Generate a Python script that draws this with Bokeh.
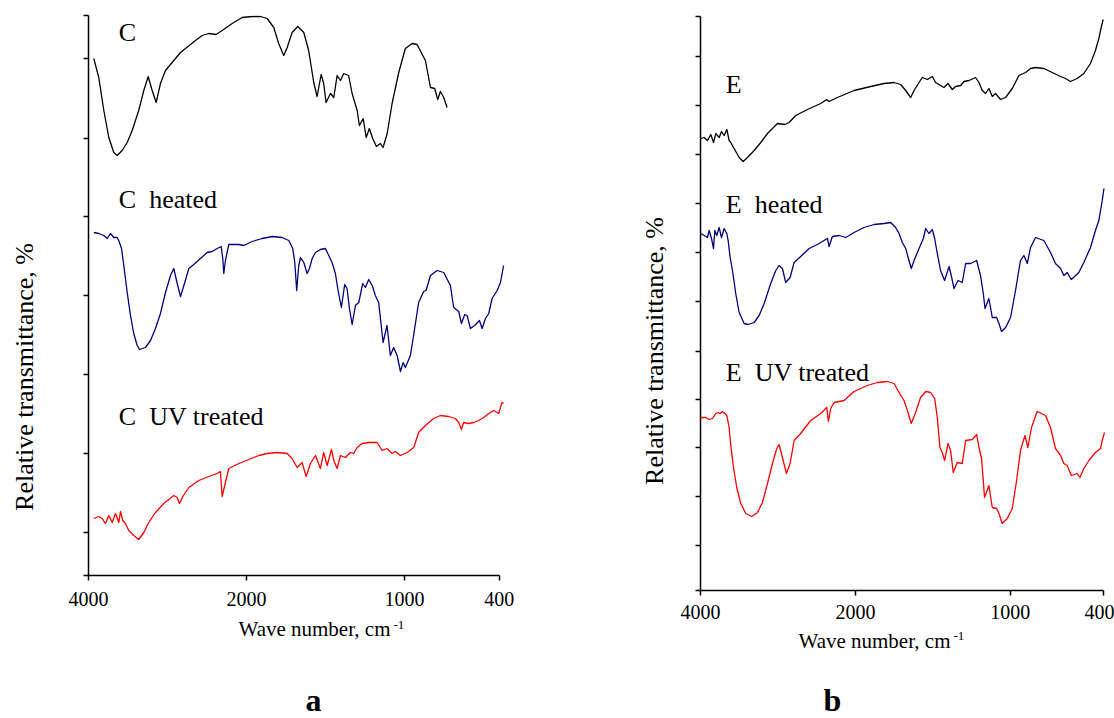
import numpy as np
from bokeh.plotting import figure
from bokeh.models import FixedTicker, Label, Range1d
from bokeh.layouts import row, column
from bokeh.embed import file_html
from bokeh.resources import INLINE

# ---------------- data (wave number, cm-1 ; relative transmittance, arb.) ----------------
c_wave = [3933,3870,3806,3743,3680,3637,3574,3510,3447,3364,3300,3244,3194,3143,3089,3025,2941,2835,2772,2646,
          2561,2477,2384,2308,2181,2054,1964,1911,1869,1827,1796,1764,1742,1711,1675,1637,1606,1574,1553,1527,
          1511,1496,1468,1447,1426,1405,1384,1353,1331,1299,1285,1261,1242,1222,1201,1177,1152,1135,1109,1078,
          1036,994,951,920,867,835,808,789,772,751,730]
c_trans = [517,498,465,438,423,420,425,433,445,465,485,499,485,473,492,505,513,523,527,535,
           540,542,541,545,552,558,559,559,557,548,532,520,528,543,549,543,525,493,479,501,
           492,473,482,478,500,495,502,500,482,465,450,457,438,447,437,429,432,428,442,472,
           503,527,532,531,515,488,487,476,484,478,468]

ch_wave = [3933,3870,3806,3763,3722,3680,3637,3617,3582,3553,3510,3468,3427,3384,3354,3278,3215,3152,3089,3025,
           2962,2920,2877,2835,2781,2730,2667,2582,2497,2434,2371,2320,2300,2287,2266,2224,2097,2034,1964,1901,
           1837,1774,1732,1707,1694,1682,1669,1658,1637,1616,1601,1584,1563,1532,1500,1479,1458,1437,1420,1399,
           1378,1363,1348,1331,1310,1289,1264,1247,1226,1204,1184,1163,1135,1110,1089,1068,1046,1025,1008,994,
           962,935,910,878,863,835,793,751,709,688,656,639,618,603,582,555,525,508,487,466,445,413,392,372]
ch_trans = [343,342,340,337,342,338,338,335,327,310,283,260,242,230,226,228,235,247,262,283,
            300,307,292,279,293,307,311,317,323,324,327,329,317,302,315,331,331,330,334,337,
            339,338,335,327,313,285,310,318,313,302,307,317,323,326,327,320,313,302,285,268,
            291,287,267,251,270,273,292,288,296,290,280,273,233,250,220,228,220,204,213,208,
            220,247,273,284,285,300,305,303,290,268,264,252,261,260,247,250,255,247,257,262,277,285,293,310]

cu_wave = [3933,3870,3827,3785,3743,3700,3658,3616,3595,3566,3532,3490,3427,3364,3300,3237,3152,3047,2920,2877,
           2848,2806,2730,2604,2477,2371,2329,2308,2266,2224,2097,1985,1922,1869,1806,1742,1711,1679,1648,1622,
           1595,1563,1532,1511,1489,1462,1447,1426,1405,1373,1342,1321,1299,1268,1226,1173,1141,1110,1078,1057,
           1025,983,941,910,867,815,772,720,677,656,639,625,593,561,530,498,466,435,403,382,372]
cu_trans = [57,59,57,52,60,53,62,53,64,55,52,45,40,36,43,53,63,72,80,78,
            72,79,88,95,99,102,104,79,93,107,112,116,120,122,123,122,117,108,113,99,
            112,120,107,123,110,126,115,107,120,118,123,122,128,132,133,133,125,127,122,124,
            120,123,128,143,150,157,160,159,157,153,146,153,152,153,155,158,162,165,162,173,172]

e_wave = [3996,3953,3910,3867,3832,3802,3759,3729,3695,3660,3630,3609,3566,3501,3449,3394,3307,3222,3135,3006,
          2912,2856,2770,2619,2448,2370,2339,2232,2017,1901,1815,1750,1708,1675,1643,1621,1589,1568,1535,1503,
          1482,1450,1428,1402,1374,1353,1320,1299,1266,1224,1202,1181,1159,1138,1116,1095,1063,1030,987,944,
          901,869,837,783,729,675,643,611,568,525,482,450,428,413,400]
e_trans = [452,453,450,456,448,457,453,459,455,461,450,448,442,433,429,433,440,448,457,467,
           466,468,475,481,487,491,489,493,500,504,507,508,506,500,493,500,508,513,511,514,
           508,505,503,507,501,504,505,509,510,513,508,500,497,502,494,497,491,493,502,515,
           518,522,523,522,518,514,512,509,512,517,527,540,552,563,571]

eh_wave = [3996,3953,3910,3888,3858,3832,3815,3790,3759,3729,3695,3660,3643,3617,3587,3545,3501,3436,3385,3307,
           3243,3178,3093,3028,2985,2942,2900,2843,2791,2706,2597,2468,2361,2339,2297,2210,2125,2017,1944,1879,
           1815,1772,1740,1718,1697,1675,1654,1639,1621,1589,1561,1546,1525,1503,1488,1471,1450,1424,1395,1381,
           1363,1337,1310,1288,1256,1217,1192,1174,1163,1138,1116,1088,1073,1056,1030,998,966,934,912,890,
           869,837,783,740,708,675,654,632,606,557,525,482,450,428,406,395]
eh_trans = [357,355,353,360,352,342,360,355,363,353,362,357,350,333,320,297,278,267,266,268,
            275,287,307,320,325,322,308,313,328,334,342,347,352,344,354,355,353,358,363,366,
            367,368,363,357,348,342,330,322,330,342,352,362,357,361,352,337,320,310,324,315,
            302,310,308,327,327,330,315,297,282,292,273,273,267,259,263,273,300,330,335,327,
            343,353,350,338,327,322,315,318,311,318,328,343,360,370,390,402]

eu_wave = [3996,3931,3888,3845,3802,3772,3746,3716,3686,3660,3630,3609,3574,3532,3480,3415,3338,3264,3200,3135,
           3071,3015,2985,2942,2890,2843,2791,2706,2577,2448,2370,2348,2319,2275,2146,2017,1923,1858,1794,1750,
           1718,1686,1664,1639,1611,1579,1546,1514,1488,1471,1454,1439,1424,1402,1385,1368,1342,1310,1288,1245,
           1217,1202,1185,1166,1138,1116,1088,1073,1052,1019,987,959,934,905,886,863,826,772,740,708,
           675,654,632,606,568,550,525,492,450,417,406,392]
eu_trans = [173,173,171,172,177,178,177,179,177,175,163,145,123,103,87,77,74,78,88,107,
            127,142,146,133,117,127,150,157,170,177,183,169,182,188,190,199,205,208,209,207,
            198,190,180,167,178,193,199,198,192,173,143,138,130,147,140,118,128,127,150,151,
            156,143,132,93,105,83,82,77,67,72,82,110,140,155,143,163,179,175,163,142,
            135,127,125,115,117,113,122,130,138,142,150,158]

x_tick_waves = [4000, 2000, 1000, 400]
x_tick_labels = ["4000", "2000", "1000", "400"]
a_y_ticks = [0, 43, 122, 201, 280, 359, 437, 517, 560]
b_y_ticks = [0, 45, 94, 143, 191, 239, 289, 338, 387, 436, 485, 534, 574]

a_names = ["C", "C\u00a0 heated", "C\u00a0 UV treated"]
b_names = ["E", "E\u00a0 heated", "E\u00a0 UV treated"]
colors = ["#000000", "#00007F", "#FF0000"]

Y_TITLE = "Relative transmittance, %"
X_TITLE = "Wave number, cm"
X_TITLE_SUP = "-1"

FONT = "Liberation Serif"


def to_axis(w):
    """Split wave-number axis: 4000-2000 compressed 2x relative to 2000-400."""
    w = np.asarray(w, dtype=float)
    return np.where(w >= 2000, (4000.0 - w) / 2.0, 3000.0 - w)


def make_panel(width, height, b_left, b_right, b_top, b_bottom, xend, yend, yticks, standoff):
    p = figure(width=width, height=height, output_backend="svg", toolbar_location=None,
               x_range=Range1d(0, xend), y_range=Range1d(0, yend),
               min_border_left=b_left, min_border_right=b_right,
               min_border_top=b_top, min_border_bottom=b_bottom)
    p.outline_line_color = None
    p.xgrid.visible = False
    p.ygrid.visible = False
    p.background_fill_color = "white"
    p.border_fill_color = "white"

    tick_u = [float(v) for v in to_axis(x_tick_waves)]
    p.xaxis.ticker = FixedTicker(ticks=tick_u)
    p.xaxis.major_label_overrides = {u: lab for u, lab in zip(tick_u, x_tick_labels)}
    p.xaxis.bounds = (0, 2600)
    p.xaxis.minor_tick_line_color = None
    p.xaxis.major_tick_in = 0
    p.xaxis.major_tick_out = 5
    p.xaxis.major_label_text_font = FONT
    p.xaxis.major_label_text_font_size = "20px"
    p.xaxis.major_label_text_color = "black"
    p.xaxis.major_label_standoff = standoff

    p.yaxis.ticker = FixedTicker(ticks=yticks)
    p.yaxis.minor_tick_line_color = None
    p.yaxis.major_tick_in = 0
    p.yaxis.major_tick_out = 5
    p.yaxis.major_label_standoff = 0
    p.yaxis.major_label_text_font_size = "1px"
    p.yaxis.major_label_text_color = None

    for ax in (p.xaxis, p.yaxis):
        ax.axis_line_color = "black"
        ax.axis_line_width = 1.5
        ax.major_tick_line_color = "black"
        ax.major_tick_line_width = 1.5
    return p


def blank(width, height):
    f = figure(width=width, height=height, output_backend="svg", toolbar_location=None,
               x_range=Range1d(0, width), y_range=Range1d(0, height),
               x_axis_location=None, y_axis_location=None, min_border=0)
    f.outline_line_color = None
    f.xgrid.visible = False
    f.ygrid.visible = False
    f.background_fill_color = "white"
    f.border_fill_color = "white"
    return f


def add_curves(p, series):
    for (w, t), col in zip(series, colors):
        p.line(to_axis(w), t, line_color=col, line_width=1.3, line_join="round")


def text(p, x, y, s, size, units="screen", align="left", angle=0.0, bold=False):
    p.add_layout(Label(x=x, y=y, x_units=units, y_units=units, text=s,
                       text_font=FONT, text_font_size=size, text_color="black",
                       text_align=align, text_baseline="alphabetic", angle=angle,
                       text_font_style="bold" if bold else "normal"))


# ---------------- panel a ----------------
ya = blank(40, 718)
text(ya, 24, 341.5, Y_TITLE, "26px", align="center", angle=np.pi / 2)

pa = make_panel(580, 615, 48, 115, 15, 40, 2640, 560, a_y_ticks, 11)
add_curves(pa, [(c_wave, c_trans), (ch_wave, ch_trans), (cu_wave, cu_trans)])
for name, yb in zip(a_names, [543.5, 376, 159]):
    text(pa, 192, yb, name, "26px", units="data")

bot_a = blank(580, 103)         # frame aligned with panel a frame (left edge at page x = 88)
text(bot_a, 150, 90, X_TITLE, "21px")
text(bot_a, 305, 93.5, X_TITLE_SUP, "13px")
text(bot_a, 225, 19, "a", "32px", align="center", bold=True)

# ---------------- panel b ----------------
yb_fig = blank(60, 718)
text(yb_fig, 34, 367.5, Y_TITLE, "26px", align="center", angle=np.pi / 2)

pb = make_panel(434, 627, 20, 9, 16, 37, 2615, 574, b_y_ticks, 9)
add_curves(pb, [(e_wave, e_trans), (eh_wave, eh_trans), (eu_wave, eu_trans)])
for name, yb in zip(b_names, [506, 386, 218]):
    text(pb, 163, yb, name, "26px", units="data")

bot_b = blank(434, 91)          # frame aligned with panel b frame (left edge at page x = 700)
text(bot_b, 98, 78, X_TITLE, "21px")
text(bot_b, 253, 82.5, X_TITLE_SUP, "13px")
text(bot_b, 132, 19, "b", "32px", align="center", bold=True)

layout = row(ya, column(pa, bot_a), yb_fig, column(pb, bot_b))
open("out.html", "w").write(file_html(layout, INLINE))
